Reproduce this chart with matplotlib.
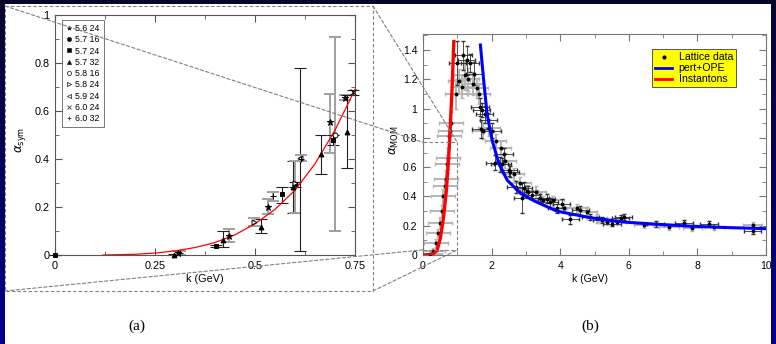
import numpy as np
import matplotlib
matplotlib.use('Agg')
import matplotlib.pyplot as plt
from matplotlib.patches import Rectangle, ConnectionPatch
from matplotlib.lines import Line2D
from matplotlib.colors import LinearSegmentedColormap
from matplotlib.ticker import MultipleLocator, FixedLocator, FixedFormatter

plt.rcParams['font.family'] = ['Liberation Sans', 'DejaVu Sans']
plt.rcParams['mathtext.fontset'] = 'dejavusans'

# ---------------- (a) symmetric-point coupling, low k ----------------
sym_labels = ['5.6 24', '5.7 16', '5.7 24', '5.7 32', '5.8 16',
              '5.8 24', '5.9 24', '6.0 24', '6.0 32']
sym_k = [[0.308, 0.434, 0.533, 0.6875, 0.725],
         [0.600],
         [0.0, 0.4025, 0.567, 0.694],
         [0.2975, 0.421, 0.515, 0.594, 0.664, 0.729],
         [0.700],
         [0.4975, 0.600],
         [0.6125],
         [0.746],
         [0.313, 0.544, 0.615]]
sym_alpha = [[0.007, 0.080, 0.198, 0.553, 0.655],
             [0.295],
             [0.0, 0.039, 0.253, 0.481],
             [0.0, 0.064, 0.118, 0.285, 0.419, 0.513],
             [0.500],
             [0.138, 0.300],
             [0.405],
             [0.678],
             [0.008, 0.246, 0.400]]
sym_lo = [[0.0, 0.053, 0.170, 0.426, 0.645],
          [0.285],
          [0.0, 0.035, 0.216, 0.460],
          [0.0, 0.032, 0.090, 0.177, 0.339, 0.364],
          [0.098],
          [0.122, 0.177],
          [0.015],
          [0.668],
          [0.0, 0.225, 0.390]]
sym_hi = [[0.015, 0.108, 0.232, 0.671, 0.665],
          [0.305],
          [0.0, 0.043, 0.284, 0.502],
          [0.005, 0.098, 0.149, 0.390, 0.500, 0.665],
          [0.907],
          [0.156, 0.390],
          [0.779],
          [0.688],
          [0.015, 0.263, 0.415]]

# power-law fit through the low-k points
fit_k = [0.12, 0.20, 0.25, 0.30, 0.35, 0.40, 0.45, 0.50, 0.55, 0.60, 0.65, 0.70, 0.75]
fit_alpha = [0.0, 0.003, 0.008, 0.017, 0.031, 0.052, 0.084, 0.13, 0.19, 0.27, 0.38, 0.52, 0.69]

# ---------------- (b) MOM coupling over full range ----------------
lat_gray_k = [0.19, 0.30, 0.38, 0.45, 0.51, 0.55, 0.59, 0.63, 0.66, 0.70, 0.73, 0.77, 0.80, 0.83,
              0.96, 1.05, 1.15, 1.21, 1.30, 1.47, 1.58, 1.63, 1.75, 1.92,
              2.12, 2.26, 2.40, 2.65, 2.84, 3.04, 3.28, 3.51, 3.80, 4.10,
              4.49, 4.78, 5.07, 5.37, 5.66, 6.44, 7.17, 7.85, 8.49, 9.61]
lat_gray_a = [0.007, 0.03, 0.08, 0.15, 0.22, 0.30, 0.40, 0.47, 0.52, 0.62, 0.66, 0.81, 0.85, 0.90,
              1.10, 1.19, 1.15, 1.23, 1.20, 1.17, 1.14, 1.10, 0.85, 0.87,
              0.78, 0.73, 0.645, 0.555, 0.49, 0.44, 0.43, 0.375, 0.375, 0.32,
              0.32, 0.295, 0.25, 0.225, 0.225, 0.205, 0.19, 0.185, 0.19, 0.205]
lat_gray_dk = [0.35] * 14 + [0.32] * 10 + [0.30] * 10 + [0.28] * 10
lat_gray_da = [0.01, 0.02, 0.03, 0.03, 0.04, 0.04, 0.05, 0.05, 0.06, 0.06, 0.07, 0.07, 0.08, 0.08,
               0.10, 0.08, 0.08, 0.10, 0.08, 0.08, 0.07, 0.07, 0.06, 0.06,
               0.05, 0.05, 0.05, 0.04, 0.04, 0.04, 0.04, 0.03, 0.03, 0.03,
               0.03, 0.03, 0.03, 0.02, 0.02, 0.02, 0.02, 0.02, 0.02, 0.02]

lat_black_k = [1.00, 1.18, 1.27, 1.37, 1.49, 1.66, 1.68, 1.71, 1.80, 1.90,
               2.02, 2.09, 2.24, 2.31, 2.36, 2.50, 2.54, 2.71, 2.89, 2.94,
               3.07, 3.17, 3.41, 3.61, 3.69, 3.90, 4.05, 4.29, 4.59, 4.88,
               5.22, 5.51, 5.76, 5.85, 6.78, 7.61, 8.34, 9.61]
lat_black_a = [1.31, 1.365, 1.33, 1.31, 1.24, 1.01, 0.86, 0.99, 0.96, 0.92,
               0.85, 0.63, 0.62, 0.62, 0.69, 0.58, 0.57, 0.465, 0.39, 0.46,
               0.43, 0.41, 0.39, 0.385, 0.36, 0.32, 0.35, 0.245, 0.305, 0.26,
               0.24, 0.215, 0.25, 0.26, 0.21, 0.22, 0.215, 0.165]
lat_black_dk = [0.25] * 38
lat_black_da = [0.15, 0.10, 0.10, 0.06, 0.08, 0.06, 0.06, 0.05, 0.06, 0.05,
                0.05, 0.05, 0.05, 0.04, 0.04, 0.04, 0.04, 0.04, 0.10, 0.04,
                0.04, 0.03, 0.03, 0.03, 0.03, 0.03, 0.03, 0.03, 0.03, 0.02,
                0.02, 0.02, 0.02, 0.02, 0.02, 0.02, 0.02, 0.02]

inst_k = [0.0, 0.20, 0.30, 0.41, 0.51, 0.60, 0.68, 0.75, 0.80, 0.85, 0.90]
inst_a = [0.0, 0.002, 0.01, 0.03, 0.12, 0.26, 0.44, 0.67, 0.90, 1.15, 1.47]
ope_k = [1.67, 1.77, 1.87, 2.02, 2.22, 2.46, 2.85, 3.24, 3.90, 4.88, 5.85, 6.83, 7.80, 8.78, 10.0]
ope_a = [1.445, 1.19, 0.96, 0.78, 0.62, 0.51, 0.42, 0.37, 0.30, 0.255, 0.225, 0.21, 0.197, 0.188, 0.18]

W, H = 776, 344
fig = plt.figure(figsize=(W / 100, H / 100), dpi=100)

# slide background: navy gradient with white card
bg = fig.add_axes([0, 0, 1, 1])
bg.set_axis_off()
navy = LinearSegmentedColormap.from_list('navy', ['#07072c', '#00008e'])
bg.imshow(np.linspace(0, 1, 256)[:, None], cmap=navy, aspect='auto', extent=[0, 1, 0, 1])
bg.add_patch(Rectangle((5 / W, 0), (771 - 5) / W, (H - 4) / H, facecolor='white',
                       edgecolor='none', transform=bg.transAxes))
bg.set_xlim(0, 1)
bg.set_ylim(0, 1)


def px_axes(left, top, right, bottom):
    return fig.add_axes([left / W, (H - bottom) / H, (right - left) / W, (bottom - top) / H])


def style_ticks(ax, col, size):
    for s in ax.spines.values():
        s.set_color(col)
        s.set_linewidth(0.8)
    ax.tick_params(which='both', direction='in', top=True, right=True, color=col,
                   labelsize=size, pad=4)
    ax.tick_params(which='major', length=5)
    ax.tick_params(which='minor', length=3)


# ---- panel (a)
axa = px_axes(55, 15, 355, 255)
gray_sets = {0, 4, 5, 8}
markers = ['*', 'o', 's', '^', 'o', '>', '<', 'x', '+']
filled = [True, True, True, True, False, False, False, True, True]
handles = []
for i, lab in enumerate(sym_labels):
    k = np.array(sym_k[i])
    a = np.array(sym_alpha[i])
    yerr = [a - np.array(sym_lo[i]), np.array(sym_hi[i]) - a]
    ec = '#a0a0a0' if i in gray_sets else '#222222'
    lw = 1.4 if i in gray_sets else 0.8
    axa.errorbar(k, a, yerr=yerr, fmt='none', ecolor=ec, elinewidth=lw,
                 capsize=4, capthick=lw, clip_on=False, zorder=2)
    mfc = 'black' if filled[i] else 'white'
    ms = 4.5 if markers[i] in ('*', 'x', '+') else 3.5
    axa.plot(k, a, linestyle='none', marker=markers[i], ms=ms, mfc=mfc, mec='black',
             mew=0.7, clip_on=False, zorder=4)
    handles.append(Line2D([], [], linestyle='none', marker=markers[i], ms=3, mfc=mfc,
                          mec='#333333', mew=0.6, label=lab))
axa.plot(fit_k, fit_alpha, color='red', lw=0.9, zorder=3)
axa.set_xlim(0, 0.75)
axa.set_ylim(0, 1.0)
axa.xaxis.set_major_locator(FixedLocator([0, 0.25, 0.5, 0.75]))
axa.xaxis.set_major_formatter(FixedFormatter(['0', '0.25', '0.5', '0.75']))
axa.xaxis.set_minor_locator(MultipleLocator(0.125))
axa.yaxis.set_major_locator(FixedLocator([0, 0.2, 0.4, 0.6, 0.8, 1.0]))
axa.yaxis.set_major_formatter(FixedFormatter(['0', '0.2', '0.4', '0.6', '0.8', '1']))
axa.yaxis.set_minor_locator(MultipleLocator(0.1))
style_ticks(axa, '#555555', 7.8)
axa.set_xlabel('k (GeV)', fontsize=7.8)
axa.xaxis.set_label_coords(0.5, -0.079)
axa.set_ylabel(r'$\alpha_{\rm sym}$', fontsize=8.5)
axa.yaxis.set_label_coords(-0.09, 0.48)
leg = axa.legend(handles=handles, loc='upper left', bbox_to_anchor=(0.023, 0.979),
                 fontsize=6.3, frameon=True, fancybox=False, edgecolor='#555555',
                 handlelength=0.7, handletextpad=0.4, labelspacing=0.26,
                 borderpad=0.45, borderaxespad=0)
leg.get_frame().set_linewidth(0.7)

# ---- panel (b)
axb = px_axes(423, 34, 766, 255)
axb.errorbar(lat_gray_k, lat_gray_a, xerr=lat_gray_dk, yerr=lat_gray_da, fmt='none',
             ecolor='#b5b5b5', elinewidth=1.4, capsize=1.5, zorder=2)
axb.errorbar(lat_black_k, lat_black_a, xerr=lat_black_dk, yerr=lat_black_da, fmt='none',
             ecolor='#303030', elinewidth=0.6, capsize=1.5, zorder=2)
axb.plot(lat_gray_k + lat_black_k, lat_gray_a + lat_black_a, linestyle='none',
         marker='o', ms=1.8, color='black', zorder=3)
axb.plot(ope_k, ope_a, color='#0000ff', lw=2.2, zorder=4, solid_capstyle='butt')
axb.plot(inst_k, inst_a, color='#ff0000', lw=2.4, zorder=4, solid_capstyle='butt')
axb.set_xlim(0, 10)
axb.set_ylim(0, 1.51)
axb.xaxis.set_major_locator(MultipleLocator(2))
axb.xaxis.set_minor_locator(MultipleLocator(1))
axb.yaxis.set_major_locator(FixedLocator([0, 0.2, 0.4, 0.6, 0.8, 1.0, 1.2, 1.4]))
axb.yaxis.set_major_formatter(FixedFormatter(['0', '0.2', '0.4', '0.6', '0.8', '1', '1.2', '1.4']))
axb.yaxis.set_minor_locator(MultipleLocator(0.1))
style_ticks(axb, '#777777', 7.5)
axb.set_xlabel('k (GeV)', fontsize=7.5)
axb.xaxis.set_label_coords(0.487, -0.086)
axb.set_ylabel(r'$\alpha_{\rm MOM}$', fontsize=8.5)
axb.yaxis.set_label_coords(-0.065, 0.52)
hb = [Line2D([], [], linestyle='none', marker='o', ms=2, color='black', label='Lattice data'),
      Line2D([], [], color='#0000ff', lw=2, label='pert+OPE'),
      Line2D([], [], color='#ff0000', lw=2, label='Instantons')]
legb = axb.legend(handles=hb, loc='upper left', bbox_to_anchor=(0.668, 0.932),
                  fontsize=7.6, frameon=True, fancybox=False, facecolor='#ffff00',
                  edgecolor='#555555', framealpha=1, handlelength=1.6,
                  handletextpad=0.6, labelspacing=0.1, borderpad=0.3, borderaxespad=0)
legb.get_frame().set_linewidth(0.7)

# ---- zoom box and its projection lines
ov = fig.add_axes([0, 0, 1, 1], zorder=10)
ov.set_axis_off()
ov.patch.set_alpha(0)
ov.set_xlim(0, W)
ov.set_ylim(H, 0)
dash = dict(color='#808080', lw=0.8, linestyle=(0, (3, 2)))
ov.add_patch(Rectangle((5, 6), 368, 285, fill=False, **dash))
box_k = (0.0, 1.0)
box_a = (0.035, 0.77)
axb.add_patch(Rectangle((box_k[0], box_a[0]), box_k[1] - box_k[0], box_a[1] - box_a[0],
                        fill=False, zorder=5, **dash))
for pa, pb in [((5, 6), (box_k[0], box_a[1])), ((373, 6), (box_k[1], box_a[1])),
               ((5, 291), (box_k[0], box_a[0])), ((373, 291), (box_k[1], box_a[0]))]:
    fig.add_artist(ConnectionPatch(xyA=pa, coordsA=ov.transData, xyB=pb,
                                   coordsB=axb.transData, zorder=11, **dash))

fig.text(137 / W, 1 - 326 / H, '(a)', ha='center', va='center', fontsize=11,
         family='Liberation Serif')
fig.text(590 / W, 1 - 326 / H, '(b)', ha='center', va='center', fontsize=11,
         family='Liberation Serif')

fig.savefig('out.png', dpi=100)
